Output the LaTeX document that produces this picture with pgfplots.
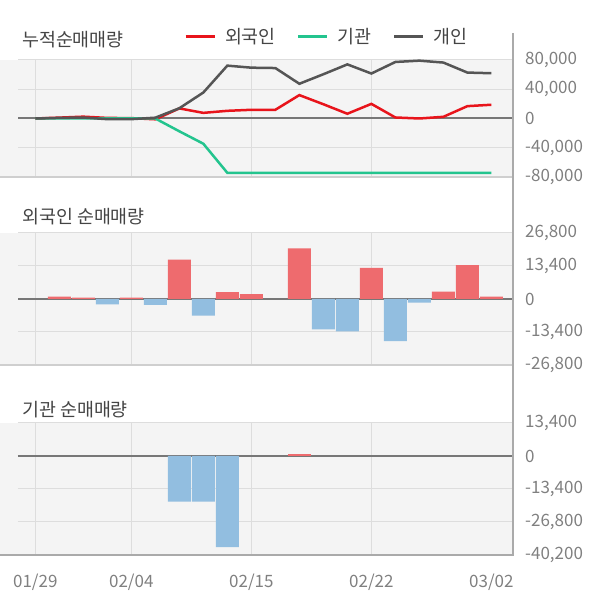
\documentclass[border=0pt]{standalone}
\usepackage{fontspec}
\setmainfont{Noto Sans CJK KR}
\usepackage{pgfplots}
\pgfplotsset{compat=1.18}
\definecolor{bg}{HTML}{F4F4F4}
\definecolor{gridc}{HTML}{DDDDDD}
\definecolor{zeroc}{HTML}{777777}
\definecolor{axc}{HTML}{AAAAAA}
\definecolor{botc}{HTML}{CFCFCF}
\definecolor{lblc}{HTML}{808080}
\definecolor{titc}{HTML}{444444}
\definecolor{fred}{HTML}{E8141B}
\definecolor{igreen}{HTML}{23C48E}
\definecolor{pgray}{HTML}{555555}
\definecolor{barred}{HTML}{EE6B6E}
\definecolor{barblue}{HTML}{92BEE0}
\newcommand{\fs}{\fontsize{17}{17}\selectfont}
\newcommand{\ft}{\fontsize{18.4}{18.4}\selectfont}
\pgfplotsset{panel/.style={
  scale only axis, width=495pt, xmin=-0.72, xmax=19.9,
  axis background/.style={fill=bg},
  axis line style={draw=none},
  tick style={draw=none},
  major tick length=0pt,
  xtick={0,4,9,14}, xticklabels={},
  xmajorgrids, ymajorgrids,
  grid style={gridc, line width=1pt},
  extra y ticks={0}, extra y tick labels={},
  extra y tick style={grid style={zeroc, line width=2pt}},
  scaled y ticks=false,
  yticklabel pos=right,
  yticklabel style={anchor=west, xshift=12pt, font=\fs, text=lblc, inner sep=0pt},
}}
\begin{document}
\begin{tikzpicture}[x=1pt,y=1pt]
\useasboundingbox (0,0) rectangle (600,604);
% left gray strips
\fill[bg] (0,427) rectangle (18,544);
\fill[bg] (0,239) rectangle (18,371);
\fill[bg] (0,49) rectangle (18,181);
% titles
\node[anchor=west, font=\ft, text=titc, inner sep=0pt] at (22,564) {누적순매매량};
\node[anchor=west, font=\ft, text=titc, inner sep=0pt] at (22,387) {외국인 순매매량};
\node[anchor=west, font=\ft, text=titc, inner sep=0pt] at (22,194) {기관 순매매량};

% top panel
\begin{axis}[panel, at={(18pt,427pt)}, anchor=south west, height=117pt,
  ymin=-80000, ymax=80000,
  ytick={-80000,-40000,0,40000,80000},
  yticklabels={{-80,000},{-40,000},{0},{40,000},{80,000}},
  legend style={at={(axis description cs:0.335,1.197)}, anchor=west, draw=none, fill=none,
    inner sep=0pt, font=\ft, text=titc, legend columns=3,
    nodes={inner sep=0pt},
    /tikz/every odd column/.append style={column sep=9pt},
    /tikz/every even column/.append style={column sep=21pt}},
  legend image code/.code={\draw[#1, line width=3pt] (0pt,0pt) -- (29pt,0pt);},
]
\addplot[fred, line width=2.5pt] coordinates {
(0,0) (1,1200) (2,2500) (3,800) (4,500) (5,-1100) (6,13800) (7,7700) (8,10500) (9,11900)
(10,11900) (11,32000) (12,19500) (13,6500) (14,20000) (15,1400) (16,0) (17,2300) (18,16900) (19,18800)};
\addlegendentry{외국인}
\addplot[igreen, line width=2.5pt] coordinates {
(0,0) (1,0) (2,0) (3,0) (4,0) (5,0) (6,-17500) (7,-34500) (8,-74300) (9,-74300)
(10,-74300) (11,-74300) (12,-74300) (13,-74300) (14,-74300) (15,-74300) (16,-74300) (17,-74300) (18,-74300) (19,-74300)};
\addlegendentry{기관}
\addplot[pgray, line width=2.5pt] coordinates {
(0,0) (1,800) (2,1300) (3,-900) (4,-900) (5,1100) (6,14000) (7,35500) (8,72300) (9,69500)
(10,69000) (11,47500) (12,60500) (13,74000) (14,61500) (15,77300) (16,79100) (17,76500) (18,62800) (19,61900)};
\addlegendentry{개인}
\end{axis}

% middle panel
\begin{axis}[panel, at={(18pt,239pt)}, anchor=south west, height=132pt,
  ymin=-26800, ymax=26800,
  ytick={-26800,-13400,0,13400,26800},
  yticklabels={{-26,800},{-13,400},{0},{13,400},{26,800}},
]
\addplot[ybar, bar width=0.955, bar shift=0pt, fill=barred, draw=none] coordinates {
(1,940) (2,540) (4,540) (6,16000) (8,2800) (9,2000) (11,20600) (14,12600) (17,2950) (18,13800) (19,940)};
\addplot[ybar, bar width=0.955, bar shift=0pt, fill=barblue, draw=none] coordinates {
(3,-2140) (5,-2400) (7,-6800) (12,-12300) (13,-13100) (15,-17150) (16,-1470)};
\end{axis}

% bottom panel
\begin{axis}[panel, at={(18pt,49pt)}, anchor=south west, height=132pt,
  ymin=-40200, ymax=13400,
  ytick={-40200,-26800,-13400,0,13400},
  yticklabels={{-40,200},{-26,800},{-13,400},{0},{13,400}},
  xticklabels={01/29,02/04,02/15,02/22},
  extra x ticks={19}, extra x tick labels={03/02},
  extra x tick style={xmajorgrids=false},
  xticklabel style={anchor=center, yshift=-27pt, font=\fs, text=lblc, inner sep=0pt},
]
\addplot[ybar, bar width=0.955, bar shift=0pt, fill=barred, draw=none] coordinates {
(11,820)};
\addplot[ybar, bar width=0.955, bar shift=0pt, fill=barblue, draw=none] coordinates {
(6,-18500) (7,-18500) (8,-37000)};
\end{axis}

% bottom edges and right axis
\draw[botc, line width=1.2pt] (0,427) -- (513,427);
\draw[botc, line width=1.2pt] (0,239) -- (513,239);
\draw[axc, line width=2pt] (0,49) -- (513,49);
\draw[axc, line width=1.8pt] (513,571) -- (513,48);
\end{tikzpicture}
\end{document}
